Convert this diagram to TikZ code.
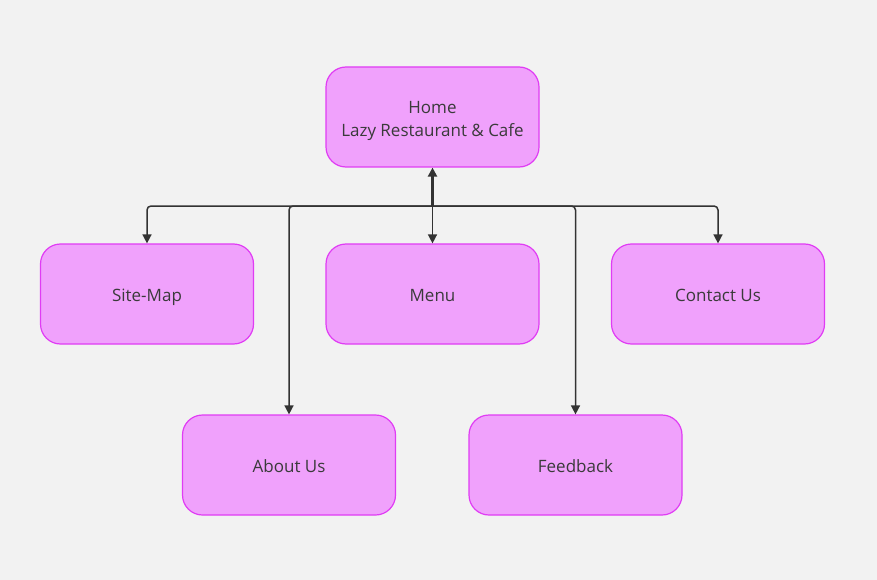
\documentclass[tikz,border=0pt]{standalone}
\usepackage{fontspec}
\setmainfont{Open Sans}
\usetikzlibrary{arrows.meta}
\definecolor{bg}{HTML}{F2F2F2}
\definecolor{boxfill}{HTML}{F0A1FC}
\definecolor{boxline}{HTML}{E03CF4}
\definecolor{linec}{HTML}{333333}
\definecolor{txt}{HTML}{3A3A3A}
\newcommand{\lowtxt}[1]{\raisebox{-3pt}[\height][\depth]{#1}}
\newcommand{\lowone}[1]{\raisebox{-2.6pt}[\height][\depth]{\strut #1}}
\begin{document}
\begin{tikzpicture}[x=1pt,y=-1pt,
  pagebox/.style={draw=boxline, fill=boxfill, line width=1.2pt, rounded corners=20pt,
    minimum width=213pt, minimum height=100pt, inner sep=0pt, align=center,
    text=txt, font=\fontsize{17}{24}\selectfont},
  conn/.style={draw=linec, line width=1.5pt, rounded corners=4pt,
    -{Triangle[length=9pt,width=9pt]}}]
\fill[bg] (0,0) rectangle (877,580);
\useasboundingbox (0,0) rectangle (877,580);
\node[pagebox] (home) at (432.5,117) {\lowtxt{\begin{tabular}{@{}c@{}}Home\\[-0.5pt]Lazy Restaurant \& Cafe\end{tabular}}};
\node[pagebox] (site) at (147,294) {\lowone{Site-Map}};
\node[pagebox] (menu) at (432.5,294) {\lowone{Menu}};
\node[pagebox] (contact) at (718,294) {\lowone{Contact Us}};
\node[pagebox] (about) at (289,465) {\lowone{About Us}};
\node[pagebox] (feedback) at (575.5,465) {\lowone{Feedback}};
\coordinate (hub) at (432.5,206);
\draw[conn, line width=2.2pt] (hub) -- (home.south);
\draw[conn] (hub) -| (site.north);
\draw[conn] (hub) -- (menu.north);
\draw[conn] (hub) -| (contact.north);
\draw[conn] (hub) -| (about.north);
\draw[conn] (hub) -| (feedback.north);
\end{tikzpicture}
\end{document}
